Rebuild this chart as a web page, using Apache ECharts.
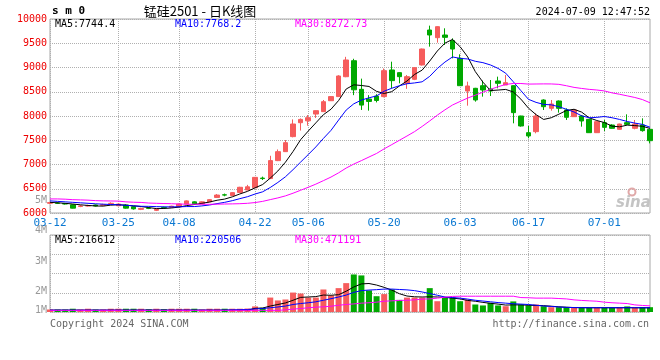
<!DOCTYPE html>
<html><head><meta charset="utf-8">
<script src="https://cdn.jsdelivr.net/npm/echarts@6/dist/echarts.min.js"></script>
<style>html,body{margin:0;padding:0;background:#fff}#c{width:660px;height:360px}</style>
</head><body><div id="c"></div><script>
const dates = ['03-12','03-13','03-14','03-15','03-18','03-19','03-20','03-21','03-22','03-25','03-26','03-27','03-28','03-29','04-01','04-02','04-03','04-08','04-09','04-10','04-11','04-12','04-15','04-16','04-17','04-18','04-19','04-22','04-23','04-24','04-25','04-26','04-29','04-30','05-06','05-07','05-08','05-09','05-10','05-13','05-14','05-15','05-16','05-17','05-20','05-21','05-22','05-23','05-24','05-27','05-28','05-29','05-30','05-31','06-03','06-04','06-05','06-06','06-07','06-11','06-12','06-13','06-14','06-17','06-18','06-19','06-20','06-21','06-24','06-25','06-26','06-27','06-28','07-01','07-02','07-03','07-04','07-05','07-08','07-09'];
const tickDates = ['03-12','03-25','04-08','04-22','05-06','05-20','06-03','06-17','07-01'];

const openP  = [6200,6205,6195,6170,6135,6145,6165,6160,6190,6150,6165,6130,6075,6100,6055,6115,6120,6130,6185,6230,6190,6230,6320,6375,6360,6425,6475,6520,6720,6710,7080,7265,7575,7862,7900,8040,8090,8315,8400,8810,9140,8550,8350,8410,8400,8949,8894,8674,8756,9052,9773,9615,9670,9553,9189,8515,8571,8625,8557,8722,8639,8625,8000,7656,7677,8330,8158,8309,8124,7986,8000,7931,7656,7863,7814,7725,7863,7746,7814,7725];
const closeP = [6215,6200,6185,6100,6145,6150,6145,6170,6200,6185,6100,6085,6095,6095,6080,6110,6140,6185,6250,6190,6230,6275,6370,6370,6420,6530,6540,6735,6710,7080,7265,7450,7835,7930,7965,8110,8295,8400,8825,9155,8540,8225,8300,8320,8935,8729,8811,8811,8997,9381,9670,9842,9622,9381,8625,8619,8330,8536,8515,8674,8687,8069,7794,7588,8000,8192,8247,8158,7973,8124,7897,7656,7883,7766,7746,7835,7828,7835,7698,7491];
const lowP   = [6190,6185,6175,6095,6120,6135,6135,6150,6180,6140,6090,6070,6060,6080,6040,6100,6110,6125,6180,6180,6185,6225,6310,6345,6355,6420,6470,6515,6680,6700,7070,7260,7560,7700,7800,7960,8085,8310,8395,8800,8430,8125,8110,8280,8385,8571,8674,8560,8740,9040,9430,9512,9464,9189,8625,8213,8296,8399,8412,8571,8639,7849,7780,7540,7643,8124,8110,8069,7918,7980,7780,7650,7650,7691,7740,7720,7814,7725,7677,7436];
const highP  = [6230,6225,6205,6180,6165,6170,6175,6190,6220,6195,6180,6140,6110,6120,6090,6130,6150,6195,6260,6240,6240,6285,6390,6400,6430,6540,6580,6740,6750,7180,7310,7505,7930,7950,8020,8115,8330,8405,8840,9220,9180,8770,8430,8450,8980,9120,8900,8845,9000,9390,9863,9850,9808,9601,9272,8708,8580,8729,8742,8811,8845,8630,8005,7794,8055,8344,8330,8320,8158,8130,8021,7940,7890,7918,7830,7840,8034,7918,7952,7730];

const ma5  = [6220,6210,6200,6185,6169,6156,6145,6142,6162,6170,6160,6148,6133,6112,6091,6093,6104,6122,6153,6175,6199,6226,6263,6287,6333,6393,6446,6519,6587,6719,6866,7048,7268,7512,7689,7858,8027,8140,8319,8557,8643,8629,8609,8508,8464,8502,8619,8721,8857,8946,9134,9340,9502,9579,9428,9218,8915,8698,8525,8535,8548,8496,8348,8162,8028,7929,7964,8037,8114,8139,8080,7962,7907,7865,7790,7777,7812,7802,7788,7744.4];
const ma10 = [6250,6240,6230,6220,6210,6200,6190,6182,6175,6170,6158,6147,6138,6137,6131,6127,6126,6128,6133,6133,6146,6165,6193,6220,6254,6296,6336,6391,6437,6526,6630,6747,6894,7050,7204,7362,7538,7704,7916,8123,8251,8328,8375,8414,8511,8572,8624,8665,8682,8705,8818,8980,9112,9218,9187,9176,9128,9100,9052,8981,8883,8706,8523,8344,8281,8239,8230,8192,8138,8083,8004,7963,7972,7990,7964,7929,7887,7854,7827,7768.2];
const ma30 = [6290,6290,6285,6275,6270,6265,6255,6250,6248,6245,6230,6222,6218,6205,6200,6195,6192,6185,6182,6180,6180,6180,6182,6185,6188,6192,6200,6215,6240,6276,6311,6353,6408,6469,6530,6595,6667,6741,6828,6927,7009,7080,7154,7228,7323,7410,7499,7587,7678,7785,7899,8018,8127,8227,8300,8370,8430,8490,8550,8603,8651,8671,8670,8658,8660,8662,8661,8653,8624,8590,8568,8549,8536,8517,8477,8448,8415,8382,8339,8272.73];

const volume = [130000,130000,130000,170000,130000,170000,130000,130000,170000,170000,170000,170000,170000,150000,170000,150000,170000,170000,170000,170000,130000,170000,170000,170000,170000,170000,180000,290000,220000,750000,600000,650000,1010000,960000,750000,750000,1170000,860000,1240000,1500000,1950000,1900000,1120000,820000,930000,1170000,630000,750000,750000,750000,1240000,560000,750000,750000,560000,650000,390000,340000,480000,340000,300000,550000,390000,340000,390000,300000,250000,250000,250000,220000,230000,220000,230000,220000,220000,250000,290000,220000,250000,250000];
const volMa5  = [95000,95000,95000,95000,95000,95000,95000,95000,95000,95000,95000,95000,95000,95000,95000,95000,95000,95000,95000,95000,95000,95000,95000,95000,95000,95000,95000,190000,205000,310000,390000,470000,610000,760000,780000,800000,880000,870000,900000,1080000,1300000,1460000,1480000,1400000,1280000,1140000,950000,830000,790000,780000,790000,780000,760000,720000,680000,600000,560000,500000,450000,410000,360000,370000,370000,350000,340000,330000,300000,270000,250000,230000,225000,222000,222000,222000,222000,220000,225000,220000,218000,216612];
const volMa10 = [95000,95000,95000,95000,95000,95000,95000,95000,95000,95000,95000,95000,95000,95000,95000,95000,95000,95000,95000,95000,95000,95000,95000,100000,110000,120000,130000,160000,180000,220000,260000,310000,390000,440000,480000,530000,610000,690000,780000,880000,1020000,1110000,1140000,1160000,1190000,1190000,1170000,1150000,1110000,1040000,960000,870000,780000,750000,720000,670000,610000,570000,530000,490000,460000,430000,410000,390000,350000,310000,290000,260000,240000,230000,225000,222000,222000,222000,222000,222000,222000,222000,222000,220506];
const volMa30 = [85000,85000,85000,85000,85000,85000,85000,85000,85000,85000,85000,85000,85000,85000,85000,85000,85000,85000,85000,85000,85000,85000,85000,85000,85000,85000,85000,85000,85000,85000,85000,110000,150000,180000,220000,250000,270000,300000,350000,390000,420000,460000,480000,510000,560000,580000,600000,610000,630000,670000,680000,720000,770000,810000,820000,820000,820000,820000,820000,820000,820000,820000,750000,740000,720000,720000,720000,700000,680000,630000,600000,580000,560000,510000,480000,460000,440000,370000,340000,320000];

const UP = '#f65c5c', DOWN = '#00a800';
const MONO = '"DejaVu Sans Mono", "Liberation Mono", monospace';
const isTick = (i, v) => tickDates.indexOf(v) >= 0;
const dotted = {show: true, interval: isTick, lineStyle: {color: '#b0b0b0', type: 'dotted', width: 1}};
const hDotted = {show: true, lineStyle: {color: '#b0b0b0', type: 'dotted', width: 1}};

const kData = dates.map((d, i) => [openP[i], closeP[i], lowP[i], highP[i]]);

function txt(x, y, text, color, font, align) {
  return {type: 'text', x: x, y: y, z: 100, silent: true,
    style: {text: text, fill: color, font: font || ('10px ' + MONO), align: align || 'left', verticalAlign: 'middle'}};
}

const chart = echarts.init(document.getElementById('c'), null, {renderer: 'canvas'});
chart.setOption({
  animation: false,
  backgroundColor: '#fff',
  grid: [
    {left: 50, top: 19, width: 600, height: 194, show: true, borderColor: '#a8a8a8', borderWidth: 1},
    {left: 50, top: 235, width: 600, height: 77, show: true, borderColor: '#a8a8a8', borderWidth: 1}
  ],
  xAxis: [
    {type: 'category', gridIndex: 0, data: dates, boundaryGap: false,
     axisLine: {show: false}, axisTick: {show: false},
     axisLabel: {interval: isTick, color: '#0a78d2', fontFamily: MONO, fontSize: 11, margin: 5},
     splitLine: dotted},
    {type: 'category', gridIndex: 1, data: dates, boundaryGap: false,
     axisLine: {show: false}, axisTick: {show: false}, axisLabel: {show: false},
     splitLine: dotted}
  ],
  yAxis: [
    {type: 'value', gridIndex: 0, min: 6000, max: 10000, interval: 500,
     axisLine: {show: false}, axisTick: {show: false},
     axisLabel: {color: '#ee0000', fontFamily: MONO, fontSize: 10, margin: 3, formatter: v => String(v)},
     splitLine: hDotted},
    {type: 'value', gridIndex: 1, min: 0, max: 4000000, interval: 1000000,
     axisLine: {show: false}, axisTick: {show: false}, axisLabel: {show: false},
     splitLine: hDotted}
  ],
  series: [
    {type: 'candlestick', xAxisIndex: 0, yAxisIndex: 0, data: kData, barWidth: 5, clip: false,
     itemStyle: {color: UP, color0: DOWN, borderColor: UP, borderColor0: DOWN, borderWidth: 1}, z: 2},
    {type: 'line', xAxisIndex: 0, yAxisIndex: 0, data: ma5, symbol: 'none', smooth: false, lineStyle: {color: '#000', width: 1}, z: 5},
    {type: 'line', xAxisIndex: 0, yAxisIndex: 0, data: ma10, symbol: 'none', smooth: false, lineStyle: {color: '#0000ff', width: 1}, z: 5},
    {type: 'line', xAxisIndex: 0, yAxisIndex: 0, data: ma30, symbol: 'none', smooth: false, lineStyle: {color: '#ff00ff', width: 1}, z: 5},
    {type: 'bar', xAxisIndex: 1, yAxisIndex: 1, data: volume, barWidth: 6, clip: false,
     itemStyle: {color: p => closeP[p.dataIndex] >= openP[p.dataIndex] ? UP : DOWN}, z: 2},
    {type: 'line', xAxisIndex: 1, yAxisIndex: 1, data: volMa5, symbol: 'none', smooth: false, lineStyle: {color: '#000', width: 1}, z: 5},
    {type: 'line', xAxisIndex: 1, yAxisIndex: 1, data: volMa10, symbol: 'none', smooth: false, lineStyle: {color: '#0000ff', width: 1}, z: 5},
    {type: 'line', xAxisIndex: 1, yAxisIndex: 1, data: volMa30, symbol: 'none', smooth: false, lineStyle: {color: '#ff00ff', width: 1}, z: 5}
  ],
  graphic: [
    txt(52, 11, 's m 0', '#000', 'bold 11px ' + MONO),
    txt(200, 11, '锰硅2501 - 日K线图', '#000', '13px "Noto Sans CJK SC", sans-serif', 'center'),
    txt(650, 12, '2024-07-09 12:47:52', '#000', '10px ' + MONO, 'right'),
    txt(55, 24, 'MA5:7744.4', '#000'),
    txt(175, 24, 'MA10:7768.2', '#0000ff'),
    txt(295, 24, 'MA30:8272.73', '#ff00ff'),
    txt(55, 240, 'MA5:216612', '#000'),
    txt(175, 240, 'MA10:220506', '#0000ff'),
    txt(295, 240, 'MA30:471191', '#ff00ff'),
    txt(47, 200, '5M', '#999', '10px ' + MONO, 'right'),
    txt(47, 230, '4M', '#999', '10px ' + MONO, 'right'),
    txt(47, 261, '3M', '#999', '10px ' + MONO, 'right'),
    txt(47, 291, '2M', '#999', '10px ' + MONO, 'right'),
    txt(47, 310, '1M', '#999', '10px ' + MONO, 'right'),
    txt(50, 324, 'Copyright 2024 SINA.COM', '#666'),
    txt(649, 324, 'http://finance.sina.com.cn', '#666', '10px ' + MONO, 'right'),
    {type: 'circle', shape: {cx: 632, cy: 192, r: 3.5}, style: {fill: 'none', stroke: '#e0a8a8', lineWidth: 2}, z: 1, silent: true},
    txt(616, 203, 'sina', '#c4c4c4', 'italic bold 15px "DejaVu Sans", sans-serif')
  ]
});
</script></body></html>
